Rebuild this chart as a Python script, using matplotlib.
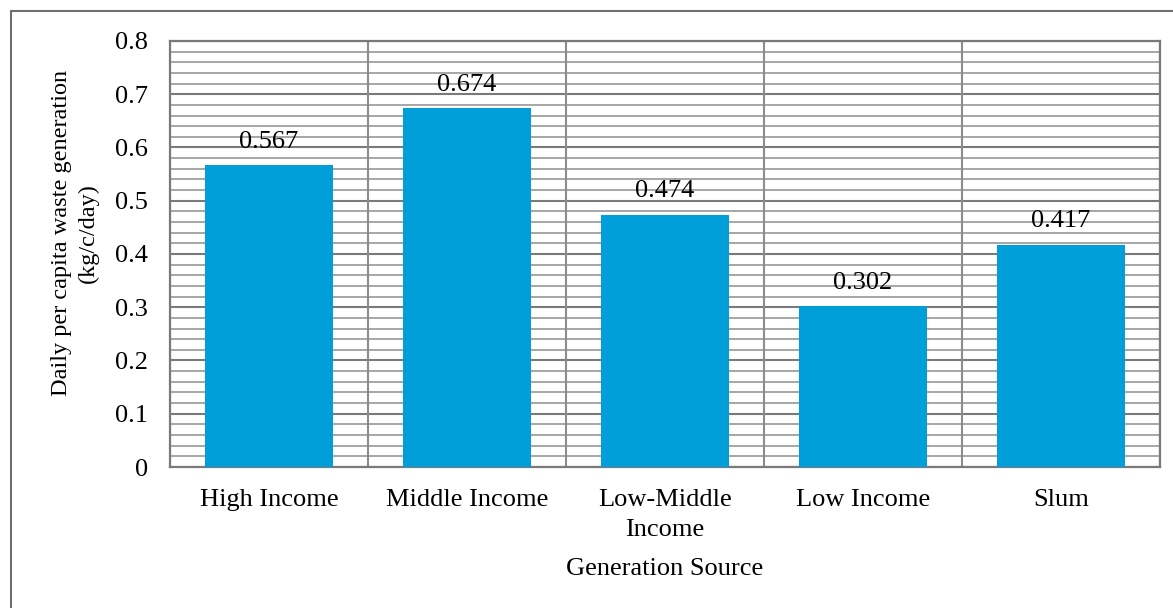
import matplotlib.pyplot as plt
import numpy as np
from matplotlib.patches import Rectangle
from matplotlib.ticker import MultipleLocator

# Daily per capita waste generation by source
categories = ['High Income', 'Middle Income', 'Low-Middle\nIncome', 'Low Income', 'Slum']
values = [0.567, 0.674, 0.474, 0.302, 0.417]
y_ticks = [0, 0.1, 0.2, 0.3, 0.4, 0.5, 0.6, 0.7, 0.8]
y_tick_labels = ['0', '0.1', '0.2', '0.3', '0.4', '0.5', '0.6', '0.7', '0.8']

plt.rcParams['font.family'] = ['Liberation Serif', 'DejaVu Serif']
FS = 19

fig = plt.figure(figsize=(11.73, 6.08), dpi=100)
ax = fig.add_axes([0.1449, 0.2319, 0.844, 0.7007])

x = np.arange(len(categories))
bars = ax.bar(x, values, width=0.65, color='#009FD9', zorder=3)

for b, v in zip(bars, values):
    ax.annotate(f'{v:.3f}', (b.get_x() + b.get_width() / 2, v),
                xytext=(0, 9), textcoords='offset points',
                ha='center', va='bottom', fontsize=FS, zorder=4)

ax.set_xlim(-0.5, len(categories) - 0.5)
ax.set_ylim(0, 0.8)
ax.set_yticks(y_ticks)
ax.set_yticklabels(y_tick_labels)
ax.yaxis.set_minor_locator(MultipleLocator(0.02))
ax.set_xticks(x)
ax.set_xticklabels(categories, linespacing=1.45)

# horizontal grid: light minor lines, darker major lines
ax.grid(True, axis='y', which='minor', color='#a6a6a6', linewidth=1.4, zorder=1)
ax.grid(True, axis='y', which='major', color='#7a7a7a', linewidth=1.5, zorder=2)
# vertical separators between categories
for xb in np.arange(-0.5, len(categories), 1.0):
    ax.axvline(xb, color='#8c8c8c', linewidth=1.5, zorder=2)

ax.tick_params(axis='both', which='both', length=0, labelsize=FS)
ax.tick_params(axis='y', pad=16)
ax.tick_params(axis='x', pad=16)
for side in ['left', 'bottom', 'right', 'top']:
    ax.spines[side].set_color('#7a7a7a')
    ax.spines[side].set_linewidth(1.6)

fig.text(75 / 1173, 1 - 233 / 608, 'Daily per capita waste generation\n(kg/c/day)',
         rotation=90, ha='center', va='center', fontsize=17.5, linespacing=1.3)
fig.text(665 / 1173, 1 - 569 / 608, 'Generation Source',
         ha='center', va='center', fontsize=FS)

# outer frame of the chart area
fig.patches.append(Rectangle((11 / 1173, -0.2), 1.2, 1.2 - 11 / 608,
                             transform=fig.transFigure, fill=False,
                             edgecolor='#707070', linewidth=1.5))

fig.savefig('out.png', dpi=100)
